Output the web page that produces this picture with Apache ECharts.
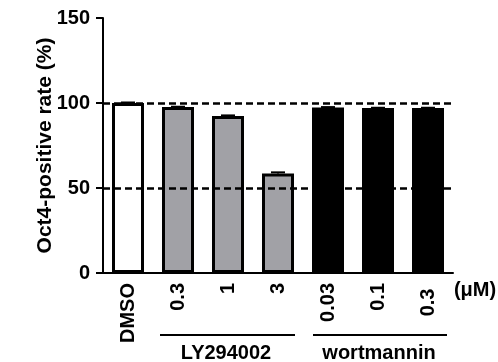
<!DOCTYPE html>
<html>
<head>
<meta charset="utf-8">
<script src="https://cdn.jsdelivr.net/npm/echarts@6/dist/echarts.min.js"></script>
<style>
  html, body { margin: 0; padding: 0; background: #fff; }
  #chart { width: 498px; height: 362px; }
</style>
</head>
<body>
<div id="chart"></div>
<script>
// data
const categories = ["DMSO", "0.3", "1", "3", "0.03", "0.1", "0.3 "];
const values = [100, 97.6, 92.4, 58.6, 97.4, 97.0, 97.0];
const errors = [0.3, 0.2, 0.3, 0.6, 0.2, 0.2, 0.2];
const barColors = ["#ffffff", "#a1a1a6", "#a1a1a6", "#a1a1a6", "#000000", "#000000", "#000000"];
const refLines = [100, 50];
const yTicks = { min: 0, max: 150, interval: 50 };
const groupNames = ["LY294002", "wortmannin"];
const unitLabel = "(μM)";

const font = "Liberation Sans";
let chartDom = document.getElementById("chart");
let myChart = echarts.init(chartDom);

const option = {
    animation: false,
    grid: {
        left: 103,
        right: 45,
        top: 18,
        bottom: 89,
    },
    xAxis: {
        type: "category",
        data: categories,
        axisLine: { lineStyle: { color: "#000", width: 2 } },
        axisTick: { alignWithLabel: true, length: 7, lineStyle: { width: 2, color: "#000" } },
        axisLabel: {
            rotate: 90,
            margin: 10,
            color: "#000",
            fontFamily: font,
            fontWeight: "bold",
            fontSize: 20,
        },
    },
    yAxis: {
        type: "value",
        min: yTicks.min,
        max: yTicks.max,
        interval: yTicks.interval,
        name: "Oct4-positive rate (%)",
        nameLocation: "middle",
        nameGap: 47,
        nameMoveOverlap: false,
        nameTextStyle: {
            color: "#000",
            fontFamily: font,
            fontWeight: "bold",
            fontSize: 21,
        },
        splitLine: { show: false },
        axisLine: { show: true, lineStyle: { color: "#000", width: 2 } },
        axisTick: { show: true, length: 7, lineStyle: { width: 2, color: "#000" } },
        axisLabel: {
            margin: 13,
            color: "#000",
            fontFamily: font,
            fontWeight: "bold",
            fontSize: 20,
        },
    },
    series: [
        {
            type: "bar",
            barWidth: 32,
            data: values.map((v, i) => ({
                value: v,
                itemStyle: { color: barColors[i] },
            })),
            itemStyle: { borderColor: "#000", borderWidth: 3 },
            markLine: {
                silent: true,
                symbol: "none",
                label: { show: false },
                lineStyle: { color: "#000", width: 2.5, type: [7, 4] },
                data: refLines.map((v) => ({ yAxis: v })),
            },
            z: 2,
        },
        {
            type: "custom",
            z: 3,
            data: values.map((v, i) => [i, v, errors[i]]),
            renderItem: function (params, api) {
                const top = api.coord([api.value(0), api.value(1) + api.value(2)]);
                const mid = api.coord([api.value(0), api.value(1)]);
                const hw = 7;
                return {
                    type: "group",
                    children: [
                        {
                            type: "line",
                            shape: { x1: mid[0], y1: mid[1], x2: top[0], y2: top[1] },
                            style: { stroke: "#000", lineWidth: 2 },
                        },
                        {
                            type: "line",
                            shape: { x1: top[0] - hw, y1: top[1], x2: top[0] + hw, y2: top[1] },
                            style: { stroke: "#000", lineWidth: 2 },
                        },
                    ],
                };
            },
        },
    ],
    graphic: [
        { type: "line", shape: { x1: 160, y1: 335, x2: 295, y2: 335 }, style: { stroke: "#000", lineWidth: 2 } },
        { type: "line", shape: { x1: 313, y1: 335, x2: 447, y2: 335 }, style: { stroke: "#000", lineWidth: 2 } },
        {
            type: "text", x: 226, y: 353,
            style: { text: groupNames[0], fill: "#000", font: "bold 20px " + font, align: "center", verticalAlign: "middle" },
        },
        {
            type: "text", x: 379, y: 353,
            style: { text: groupNames[1], fill: "#000", font: "bold 20px " + font, align: "center", verticalAlign: "middle" },
        },
        {
            type: "text", x: 475, y: 290,
            style: { text: unitLabel, fill: "#000", font: "bold 20px " + font, align: "center", verticalAlign: "middle" },
        },
    ],
};

myChart.setOption(option);
window.onresize = () => {
    myChart.resize();
};
</script>
</body>
</html>
